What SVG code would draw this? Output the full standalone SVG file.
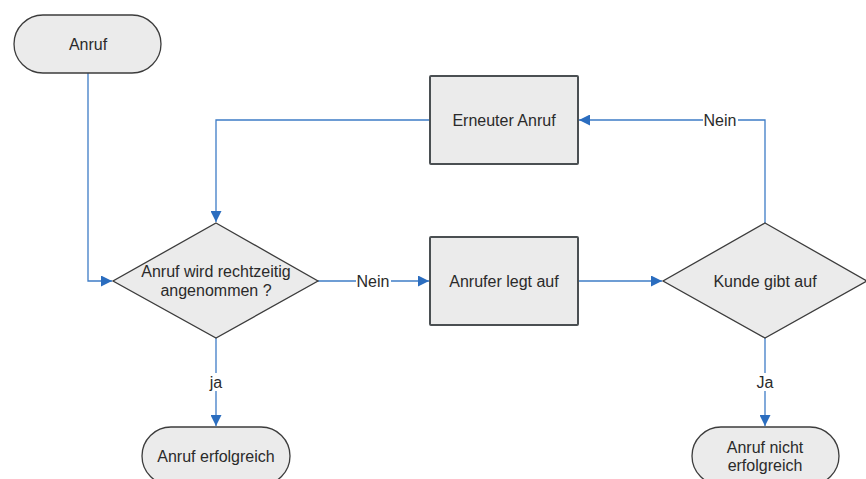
<svg xmlns="http://www.w3.org/2000/svg" width="866" height="479" viewBox="0 0 866 479">
<style>
.shape{fill:#ebebeb;stroke:#3c3c3c;stroke-width:1.3}
.box{fill:#ebebeb;stroke:#4a4f52;stroke-width:2}
.t{font-family:"Liberation Sans",Arial,sans-serif;font-size:16px;fill:#2a2a2a;text-anchor:middle;dominant-baseline:central}
.c{fill:none;stroke:#3e7cc6;stroke-width:1.3}
.lbl{fill:#ffffff;stroke:none}
</style>
<defs>
<marker id="arr" viewBox="0 0 10 10" refX="10" refY="5" markerWidth="11" markerHeight="11" markerUnits="userSpaceOnUse" orient="auto">
<path d="M0,0 L10,5 L0,10 z" fill="#2b6dbf"/>
</marker>
</defs>
<rect width="866" height="479" fill="#ffffff"/>
<g id="connectors">
<path class="c" d="M88,73 V281 H112" marker-end="url(#arr)"/>
<path class="c" d="M318,281 H429" marker-end="url(#arr)"/>
<path class="c" d="M578,281 H662" marker-end="url(#arr)"/>
<path class="c" d="M765,223 V120 H579" marker-end="url(#arr)"/>
<path class="c" d="M430,120 H216 V222" marker-end="url(#arr)"/>
<path class="c" d="M216,338 V426" marker-end="url(#arr)"/>
<path class="c" d="M765,338 V426" marker-end="url(#arr)"/>
<rect class="lbl" x="356" y="272" width="35" height="18"/>
<text class="t" x="373" y="281">Nein</text>
<rect class="lbl" x="703" y="111" width="35" height="18"/>
<text class="t" x="720" y="120">Nein</text>
<rect class="lbl" x="207" y="373" width="18" height="18"/>
<text class="t" x="216" y="382">ja</text>
<rect class="lbl" x="754" y="373" width="22" height="18"/>
<text class="t" x="765" y="382">Ja</text>
</g>
<g id="anruf">
<rect class="shape" x="14" y="15" width="147" height="58" rx="29" ry="29"/>
<text class="t" x="88" y="44">Anruf</text>
</g>
<g id="entscheidung1">
<polygon class="shape" points="216,223 318,281 216,338 113,281"/>
<text class="t" x="216" y="271">Anruf wird rechtzeitig</text>
<text class="t" x="216" y="290">angenommen ?</text>
</g>
<g id="anrufer-legt-auf">
<rect class="box" x="430" y="237" width="148" height="88" rx="1"/>
<text class="t" x="504" y="281">Anrufer legt auf</text>
</g>
<g id="erneuter-anruf">
<rect class="box" x="430" y="76" width="148" height="88" rx="1"/>
<text class="t" x="504" y="120">Erneuter Anruf</text>
</g>
<g id="kunde-gibt-auf">
<polygon class="shape" points="765,223 867,281 765,338 663,281"/>
<text class="t" x="765" y="281">Kunde gibt auf</text>
</g>
<g id="anruf-erfolgreich">
<rect class="shape" x="142" y="427" width="148" height="58" rx="29" ry="29"/>
<text class="t" x="216" y="456">Anruf erfolgreich</text>
</g>
<g id="anruf-nicht-erfolgreich">
<rect class="shape" x="692" y="427" width="147" height="58" rx="29" ry="29"/>
<text class="t" x="765" y="447">Anruf nicht</text>
<text class="t" x="765" y="465">erfolgreich</text>
</g>
</svg>
